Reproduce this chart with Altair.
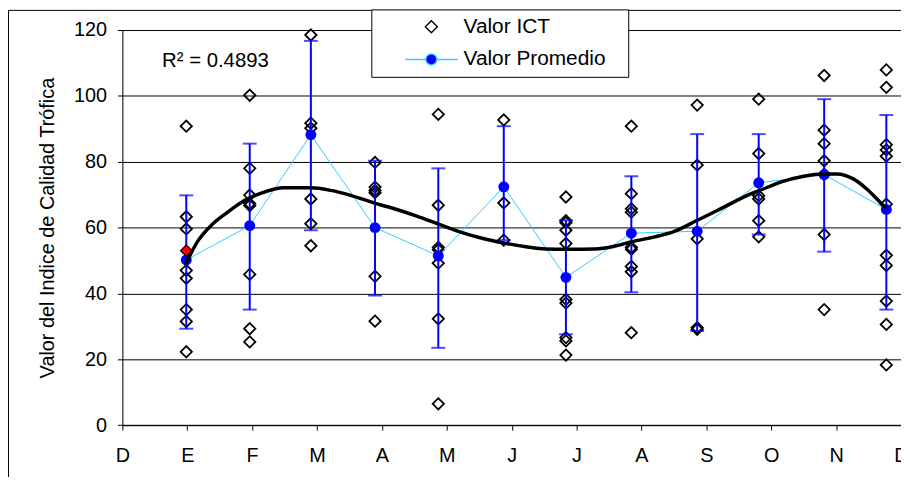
import json
import altair as alt
import pandas as pd

# ---------------- data ----------------
meses = ["D", "E", "F", "M", "A", "M", "J", "J", "A", "S", "O", "N", "D"]
# sampling position of each campaign (month units on the x axis)
pos = [0.985, 1.963, 2.905, 3.894, 4.869, 5.878, 6.836, 7.844, 8.859, 9.807, 10.816, 11.774]

ict_ene = [90.8, 63.3, 59.6, 47.0, 44.6, 35.1, 31.5, 22.3]
ict_feb = [100.2, 78.0, 69.9, 67.3, 66.7, 45.8, 29.3, 25.3]
ict_mar = [118.5, 91.7, 90.2, 68.7, 61.2, 54.5]
ict_abr = [79.8, 72.3, 71.3, 70.6, 45.2, 31.6]
ict_may = [94.4, 66.8, 54.0, 53.3, 49.2, 32.3, 6.5]
ict_jun = [92.7, 67.5, 56.2]
ict_jul = [69.3, 62.1, 61.5, 59.2, 55.2, 38.2, 37.1, 26.6, 25.6, 21.3]
ict_ago = [90.8, 70.3, 65.7, 64.7, 54.0, 53.4, 48.2, 46.6, 28.1]
ict_sep = [97.2, 79.0, 56.6, 29.6, 29.1]
ict_oct = [99.0, 82.5, 69.7, 68.7, 62.1, 57.2]
ict_nov = [106.2, 89.6, 85.5, 80.3, 76.2, 57.9, 35.1]
ict_dic = [107.9, 102.6, 85.2, 83.6, 81.7, 67.1, 51.6, 48.5, 37.7, 30.6, 18.3]
ict_grupos = [ict_ene, ict_feb, ict_mar, ict_abr, ict_may, ict_jun,
              ict_jul, ict_ago, ict_sep, ict_oct, ict_nov, ict_dic]

destacado_pos = [0.985]
destacado_val = [53.0]

promedio = [50.2, 60.6, 88.2, 60.0, 51.4, 72.4, 44.9, 58.3, 58.9, 73.6, 76.1, 65.5]
error_sup = [69.8, 85.5, 116.7, 80.3, 78.0, 90.8, 62.2, 75.6, 88.4, 88.4, 99.0, 94.2]
error_inf = [29.3, 35.1, 59.2, 39.4, 23.5, 56.2, 27.6, 40.4, 28.6, 57.9, 52.7, 35.1]

# polynomial trend line
tend_x = [0.969, 1.173, 1.376, 1.631, 1.887, 2.141, 2.498, 2.905, 3.211, 3.517,
          3.875, 4.180, 4.537, 4.842, 5.199, 5.557, 5.862, 6.219, 6.525, 6.830,
          7.289, 7.595, 7.850, 8.206, 8.486, 8.869, 9.277, 9.633, 9.888, 10.144,
          10.500, 10.806, 11.009, 11.265, 11.468, 11.673, 11.774]
tend_y = [48.7, 56.2, 60.8, 64.8, 68.3, 70.5, 72.1, 72.1, 71.3, 69.8,
          67.5, 65.8, 63.5, 61.3, 58.7, 56.7, 55.4, 54.2, 53.5, 53.4,
          53.5, 54.4, 55.7, 57.2, 58.7, 62.3, 66.3, 69.8, 71.8, 73.8,
          75.6, 76.3, 76.3, 74.8, 71.8, 67.8, 65.8]

series = ["Valor ICT", "Valor Promedio"]
r2_texto = "R\u00b2 = 0.4893"
y_titulo = "Valor del Indice de Calidad Trófica"

# ---------------- tables ----------------
ict_df = pd.DataFrame(
    [{"x": p, "v": v} for p, g in zip(pos, ict_grupos) for v in g]
)
dest_df = pd.DataFrame({"x": destacado_pos, "v": destacado_val})
prom_df = pd.DataFrame({"x": pos, "v": promedio, "lo": error_inf, "hi": error_sup})
tend_df = pd.DataFrame({"x": tend_x, "v": tend_y})
leg_df = pd.DataFrame({"x": [pos[0], pos[0]], "v": [promedio[0], promedio[0]], "serie": series})
one = pd.DataFrame({"a": [0]})

FONT = "Liberation Sans"
label_expr = json.dumps(meses) + "[round(datum.value)]"

X = alt.X(
    "x:Q",
    scale=alt.Scale(domain=[0, 12], nice=False, zero=False),
    axis=alt.Axis(
        values=list(range(len(meses))), labelExpr=label_expr, grid=False, title=None,
        tickSize=5, labelFontSize=20, labelPadding=16, labelFlush=False,
        labelOverlap=False, domainColor="black", tickColor="black", labelColor="black",
        labelFont=FONT,
    ),
)
Y = alt.Y(
    "v:Q",
    scale=alt.Scale(domain=[0, 120], nice=False),
    axis=alt.Axis(
        values=[0, 20, 40, 60, 80, 100, 120], grid=True, gridColor="black", gridWidth=1,
        gridOpacity=1, tickSize=5, labelFontSize=20, labelPadding=11,
        domainColor="black", tickColor="black", labelColor="black", labelFont=FONT,
        title=y_titulo, titleFont=FONT, titleFontSize=20, titleFontWeight="normal",
        titleColor="black", titlePadding=16,
    ),
)

diam = alt.Chart(ict_df).mark_point(
    shape="diamond", filled=False, size=130, stroke="black", strokeWidth=1.8, opacity=1
).encode(x=X, y=Y)

linea_prom = alt.Chart(prom_df).mark_line(color="#33CCFF", strokeWidth=1).encode(
    x=X, y=Y, order="x:Q"
)

err = alt.Chart(prom_df).mark_errorbar(
    ticks={"size": 14, "thickness": 2, "color": "#0000FF"},
    rule={"strokeWidth": 2, "color": "#0000FF"},
    color="#0000FF",
).encode(x=X, y=alt.Y("lo:Q", scale=alt.Scale(domain=[0, 120], nice=False), title=y_titulo), y2="hi:Q")

puntos_prom = alt.Chart(prom_df).mark_point(
    shape="circle", filled=True, size=121, color="#0000FF", opacity=1
).encode(x=X, y=Y)

dest = alt.Chart(dest_df).mark_point(
    shape="diamond", filled=True, size=130, fill="#FF0000", stroke="black",
    strokeWidth=1.3, opacity=1
).encode(x=X, y=Y)

tend = alt.Chart(tend_df).mark_line(
    color="black", strokeWidth=3.5, interpolate="monotone"
).encode(x=X, y=Y)

# legend carrier: no rows drawn, only the legend
diamond_path = "M0,-1.1L1.1,0L0,1.1L-1.1,0Z"
prom_path = ("M-4.8,0L-1,0M1,0L4.8,0M1,0A1,1,0,1,1,-1,0"
             "A1,1,0,1,1,1,0Z")
leyenda = alt.Chart(leg_df).mark_point(opacity=1, strokeWidth=1.3).encode(
    x=X, y=Y,
    shape=alt.Shape(
        "serie:N",
        scale=alt.Scale(domain=series, range=[diamond_path, prom_path]),
        legend=alt.Legend(
            title=None, orient="none", legendX=251, legendY=-20.8, direction="vertical",
            fillColor="white", strokeColor="black", padding=7, symbolSize=121,
            symbolStrokeWidth=1.4, symbolOffset=43, labelOffset=22, rowPadding=11,
            labelFont=FONT, labelFontSize=21, labelColor="black",
            labelExpr="datum.label + '\u2800'",
        ),
    ),
    fill=alt.Fill("serie:N", scale=alt.Scale(domain=series, range=["white", "#0000FF"])),
    stroke=alt.Stroke("serie:N", scale=alt.Scale(domain=series, range=["black", "#33CCFF"])),
).transform_filter("datum.x < 0")

r2 = alt.Chart(one).mark_text(
    align="left", baseline="alphabetic", fontSize=20.5, font=FONT, color="black"
).encode(x=alt.value(40), y=alt.value(37.4), text=alt.value(r2_texto))

marco_izq = alt.Chart(one).mark_rule(color="black", strokeWidth=1).encode(
    x=alt.value(-114.8), y=alt.value(-19.8), y2=alt.value(470)
)
marco_sup = alt.Chart(one).mark_rule(color="black", strokeWidth=1).encode(
    x=alt.value(-114.8), x2=alt.value(800), y=alt.value(-19.8)
)

chart = alt.layer(
    diam, linea_prom, err, puntos_prom, dest, tend, leyenda, r2, marco_izq, marco_sup
).properties(
    width=785, height=398.4,
    autosize=alt.AutoSizeParams(type="none"),
    padding={"left": 115.3, "top": 20.3, "right": 0, "bottom": 50},
).configure_view(strokeWidth=0).configure(font=FONT, background="white")

chart.save("out.html", embed_options={"renderer": "svg", "actions": False})
